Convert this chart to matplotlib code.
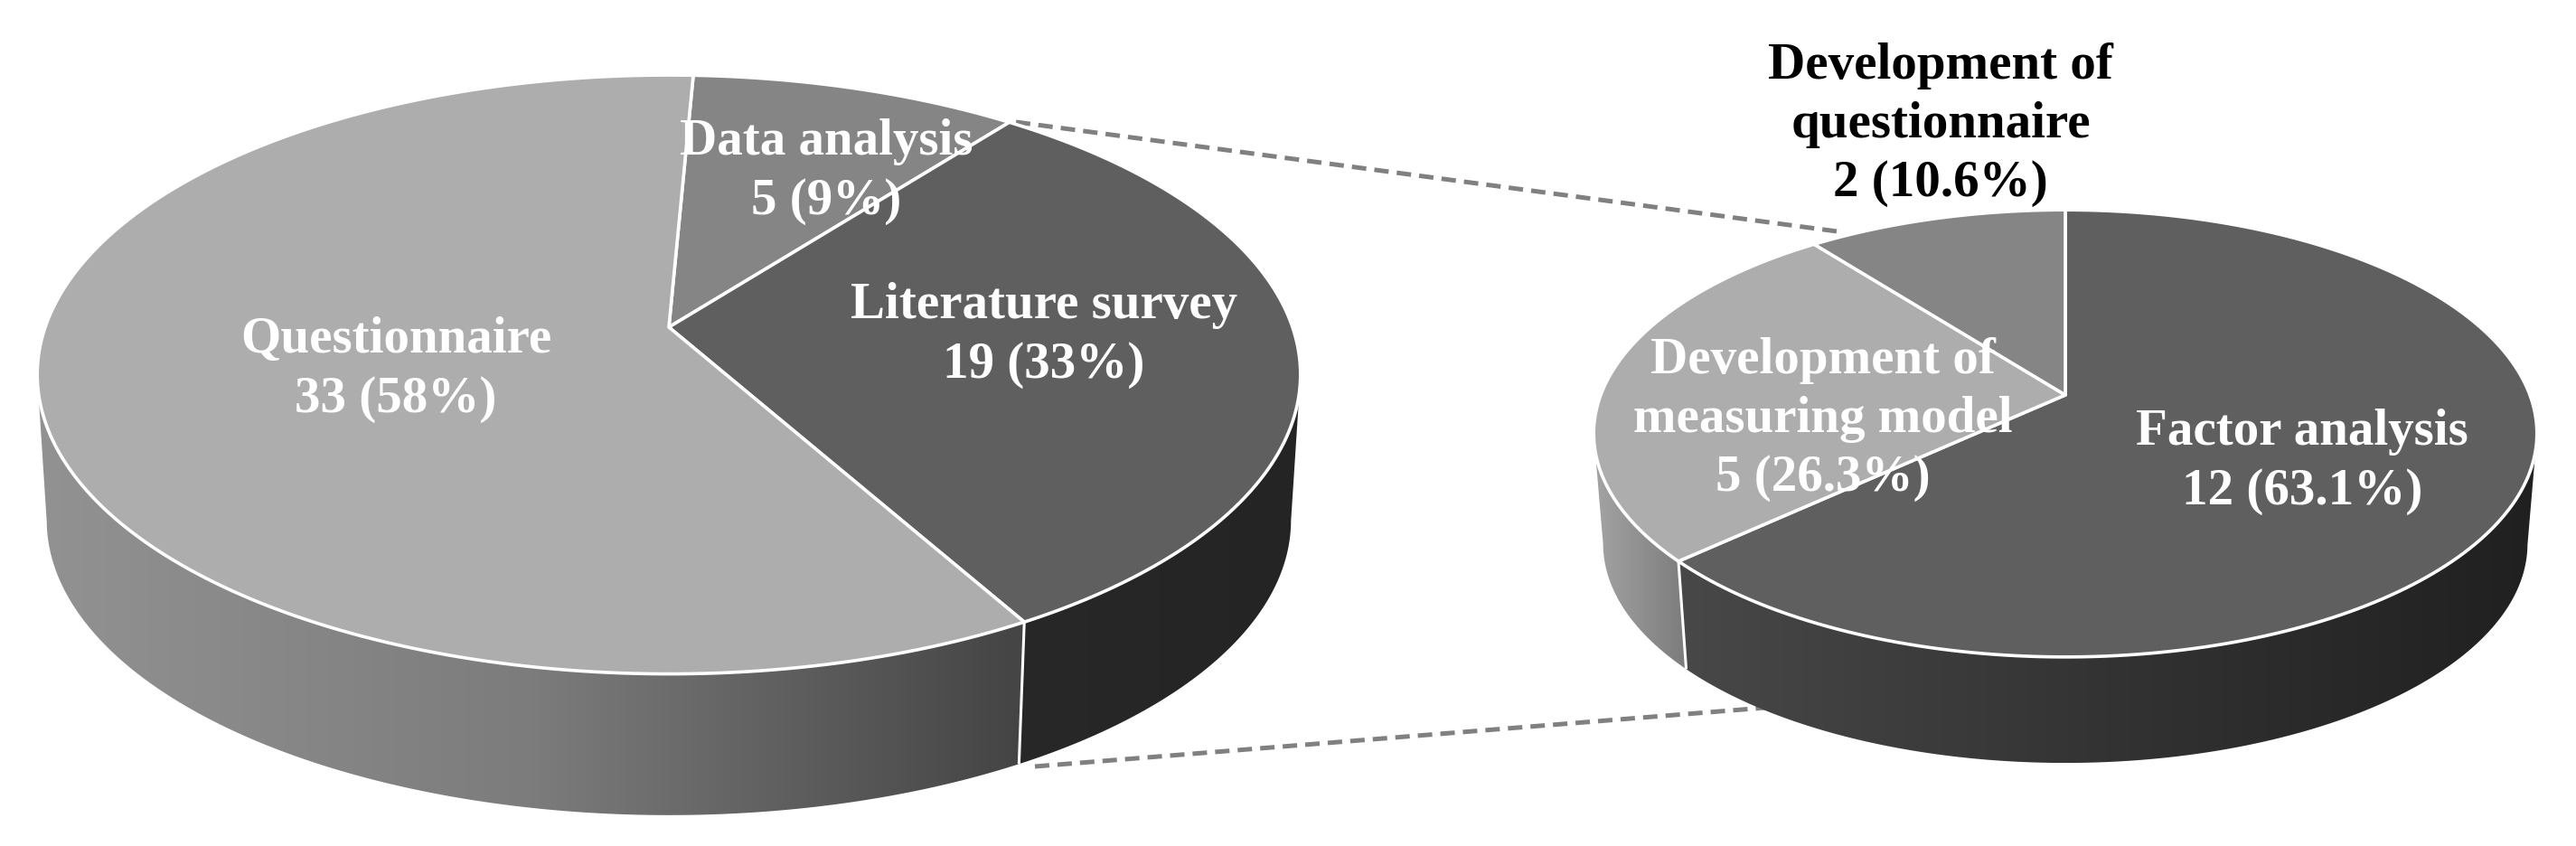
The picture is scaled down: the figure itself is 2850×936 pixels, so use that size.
import numpy as np
import matplotlib
matplotlib.use('Agg')
import matplotlib.pyplot as plt
from matplotlib.colors import LinearSegmentedColormap
from matplotlib.patches import Polygon

big_names = ['Data analysis', 'Literature survey', 'Questionnaire']
big_counts = [5, 19, 33]
big_percent = ['9%', '33%', '58%']
big_shares = [9.8, 31.3, 58.9]

# Second pie, clockwise from the top
small_names = ['Factor analysis', 'Development of\nmeasuring model', 'Development of\nquestionnaire']
small_counts = [12, 5, 2]
small_percent = ['63.1%', '26.3%', '10.6%']

top_big = ['#858585', '#5f5f5f', '#adadad']
wall_big = [['#858585', '#858585'], ['#282828', '#242424'], ['#929292', '#7c7c7c', '#444444']]
top_small = ['#5f5f5f', '#adadad', '#858585']
wall_small = [['#484848', '#333333', '#202020'], ['#a4a4a4', '#7c7c7c'], ['#858585', '#858585']]

W, H = 2850, 936
plt.rcParams['font.family'] = ['Liberation Serif', 'DejaVu Serif']

fig = plt.figure(figsize=(W / 100, H / 100), dpi=100)
ax = fig.add_axes([0, 0, 1, 1])


# Perspective circle, apex at (cx, cy); scale and drop give the lower rim
def rim(angles, geo, scale=1.0, drop=0.0):
    t = np.radians(angles)
    w = 1 + geo['p'] * np.cos(t)
    x = geo['cx'] + scale * geo['a'] * np.sin(t) / w
    y = geo['cy'] + drop - scale * geo['b'] * np.cos(t) / w
    return x, y


def draw_pie(start, sweeps, tops, walls, geo):
    edges = start + np.cumsum([0] + list(sweeps))
    s, d = geo['scale'], geo['drop']

    # Side walls with a left-to-right gradient, front part of the rim only
    for i in range(len(sweeps)):
        arc = np.linspace(edges[i], edges[i + 1], 600)
        arc = arc[np.cos(np.radians(arc)) <= -geo['p']]
        if len(arc) < 2:
            continue
        x1, y1 = rim(arc, geo)
        x2, y2 = rim(arc, geo, s, d)
        pts = np.vstack([np.column_stack([x1, y1]), np.column_stack([x2, y2])[::-1]])
        poly = Polygon(pts, closed=True, facecolor='none', edgecolor='none', transform=ax.transData)
        ax.add_patch(poly)
        cmap = LinearSegmentedColormap.from_list('wall', walls[i])
        im = ax.imshow(np.linspace(0, 1, 256).reshape(1, -1), cmap=cmap, aspect='auto', vmin=0, vmax=1,
                       extent=[pts[:, 0].min(), pts[:, 0].max(), pts[:, 1].max(), pts[:, 1].min()], zorder=2)
        im.set_clip_path(poly)

    # White seam down the front of the wall
    for e in edges:
        x1, y1 = rim(np.array([e]), geo)
        x2, y2 = rim(np.array([e]), geo, s, d)
        if y1[0] > geo['cy'] + 100:
            ax.plot([x1[0], x2[0]], [y1[0], y2[0]], color='white', lw=2.2, zorder=3, solid_capstyle='butt')

    # Top faces
    for i in range(len(sweeps)):
        arc = np.linspace(edges[i], edges[i + 1], 200)
        x1, y1 = rim(arc, geo)
        pts = np.vstack([[geo['cx'], geo['cy']], np.column_stack([x1, y1])])
        ax.add_patch(Polygon(pts, closed=True, facecolor=tops[i], edgecolor='white', lw=2.6,
                             joinstyle='round', zorder=4))


big_geo = {'cx': 740, 'cy': 362, 'a': 690, 'b': 323, 'p': 0.158, 'scale': 0.985, 'drop': 162}
small_geo = {'cx': 2285, 'cy': 437, 'a': 514, 'b': 240, 'p': 0.172, 'scale': 0.98, 'drop': 123}

# Leader lines between the two pies
for xs, ys in [([1124, 2040], [135, 257]), ([1145, 1990], [848, 780])]:
    ax.plot(xs, ys, color='#808080', lw=3.6, dashes=(3.2, 1.8), dash_capstyle='butt', zorder=1)

draw_pie(2.6, np.array(big_shares) * 3.6, top_big, wall_big, big_geo)
draw_pie(0.0, np.array(small_counts) / sum(small_counts) * 360, top_small, wall_small, small_geo)


def label(x, y, name, count, pct, color='white'):
    txt = name + '\n' + str(count) + ' (' + pct + ')'
    ax.text(x, y, txt, color=color, fontsize=41, fontweight='bold', ha='center', va='center',
            linespacing=1.32, zorder=6)


label(438, 409, big_names[2], big_counts[2], big_percent[2])
label(914, 190, big_names[0], big_counts[0], big_percent[0])
label(1155, 371, big_names[1], big_counts[1], big_percent[1])
label(2547, 511, small_names[0], small_counts[0], small_percent[0])
label(2017, 464, small_names[1], small_counts[1], small_percent[1])
label(2147, 138, small_names[2], small_counts[2], small_percent[2], color='black')

ax.set_xlim(0, W)
ax.set_ylim(H, 0)
ax.axis('off')
fig.savefig('out.png', dpi=100, facecolor='white')
